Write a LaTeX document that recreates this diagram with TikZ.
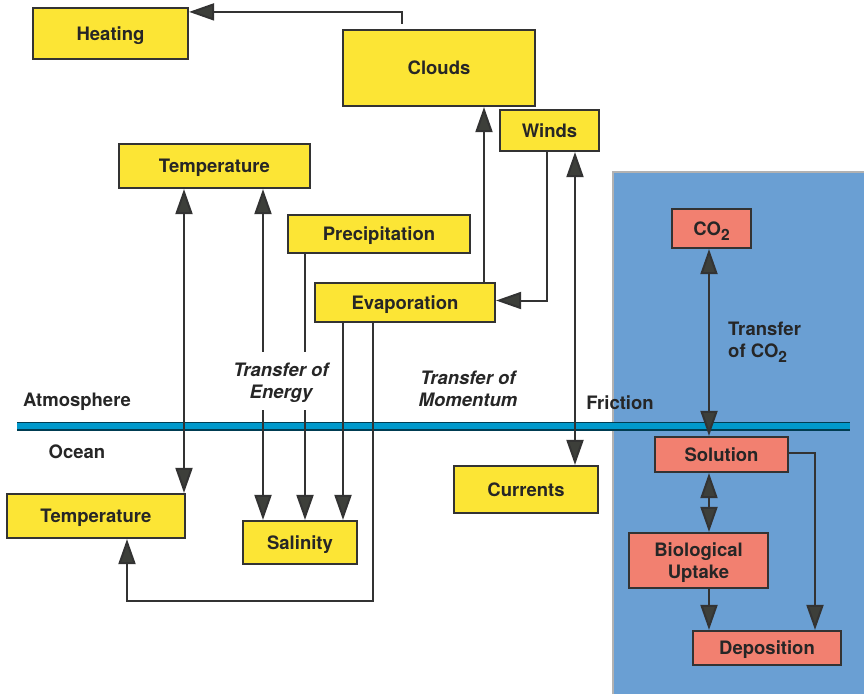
\documentclass[tikz,border=0pt]{standalone}
\usepackage{fontspec}
\setmainfont{TeX Gyre Heros}
\usetikzlibrary{arrows.meta}

\definecolor{boxyellow}{HTML}{FCE535}
\definecolor{boxsalmon}{HTML}{F28070}
\definecolor{seablue}{HTML}{6A9FD3}
\definecolor{linecol}{HTML}{333333}
\definecolor{tipcol}{HTML}{3D3F3A}
\definecolor{surface}{HTML}{0099CC}

\newcommand{\boxfont}{\fontsize{18.5}{22}\selectfont\bfseries}
\newcommand{\cotwo}{CO\raisebox{-0.5ex}{\fontsize{15.5}{15}\selectfont 2}}

\tikzset{
  box/.style={draw=linecol, line width=2.2pt, fill=boxyellow, font=\boxfont,
    text=black!85, align=center, inner sep=0pt, text depth=0pt},
  cbox/.style={box, fill=boxsalmon},
  lbl/.style={font=\boxfont, text=black!85, align=center, inner sep=1pt, text depth=0pt},
  link/.style={draw=linecol, line width=2pt, ->},
  dbl/.style={link, <->}
}

\begin{document}
\begin{tikzpicture}[x=1pt, y=-1pt, >={Triangle[length=25pt, width=17pt, fill=tipcol]}]
  \useasboundingbox (0,0) rectangle (864,694);

  % ocean region and sea surface
  \fill[seablue] (613,172) rectangle (864,694);
  \draw[black!30, line width=1.5pt] (613,694) -- (613,172) -- (864,172);
  \draw[line width=9pt, draw=black!60!surface] (17,426) -- (850,426);
  \draw[line width=5.5pt, draw=surface] (17,426) -- (850,426);

  % atmosphere boxes
  \node[box, minimum width=155pt, minimum height=51pt] (heat) at (110.5,33.5) {Heating};
  \node[box, minimum width=192pt, minimum height=76pt] (clouds) at (439,68) {Clouds};
  \node[box, minimum width=99pt, minimum height=41pt] (winds) at (549.5,130.5) {Winds};
  \node[box, minimum width=191pt, minimum height=44pt] (tempA) at (214.5,166) {Temperature};
  \node[box, minimum width=182pt, minimum height=38pt] (precip) at (379,234) {Precipitation};
  \node[box, minimum width=180pt, minimum height=39pt] (evap) at (405,302.5) {Evaporation};

  % ocean boxes
  \node[box, minimum width=178pt, minimum height=44pt] (tempO) at (96,516) {Temperature};
  \node[box, minimum width=114pt, minimum height=43pt] (salin) at (300,542.5) {Salinity};
  \node[box, minimum width=144pt, minimum height=47pt] (curr) at (526,489.5) {Currents};

  % carbon boxes
  \node[cbox, minimum width=79pt, minimum height=39pt] (co2) at (711.5,228.5) {\cotwo};
  \node[cbox, minimum width=133pt, minimum height=35pt] (sol) at (721.5,454.5) {Solution};
  \node[cbox, minimum width=139pt, minimum height=55pt] (bio) at (698.5,560.5) {Biological\\Uptake};
  \node[cbox, minimum width=148pt, minimum height=34pt] (depo) at (767,648) {Deposition};

  % connectors
  \draw[link] ([xshift=-37pt, yshift=5pt]clouds.north) |- ([yshift=-5pt]heat.north east);
  \draw[dbl] ([xshift=-30.5pt]tempA.south) -- ([xshift=-30.5pt]tempA.south |- tempO.north);
  \draw[dbl] ([xshift=48.5pt]tempA.south) -- ([xshift=48.5pt]tempA.south |- salin.north);
  \draw[link] ([xshift=-74pt]precip.south) -- ([xshift=-74pt]precip.south |- salin.north);
  \draw[link] ([xshift=-62pt]evap.south) -- ([xshift=-62pt]evap.south |- salin.north);
  \draw[link] ([xshift=-32pt]evap.south) -- ++(0,278) -| ([xshift=31pt]tempO.south);
  \draw[link] ([xshift=79pt]evap.north) -- ([xshift=79pt]evap.north |- clouds.south);
  \draw[link] ([xshift=-2.5pt]winds.south) |- ([yshift=2pt]evap.east);
  \draw[dbl] ([xshift=25.5pt]winds.south) -- ([xshift=25.5pt]winds.south |- curr.north);
  \draw[dbl] ([xshift=-2.5pt]co2.south) -- ([xshift=-2.5pt]co2.south |- sol.north);
  \draw[dbl] ([xshift=-2.5pt]co2.south |- sol.south) -- ([xshift=-2.5pt]co2.south |- bio.north);
  \draw[link] ([xshift=10.5pt]bio.south) -- ([xshift=10.5pt]bio.south |- depo.north);
  \draw[link] ([yshift=1.5pt]sol.east) -| ([xshift=48pt]depo.north);

  % labels
  \node[lbl] (atmo) at (77,400) {Atmosphere};
  \node[lbl] (ocean) at (77,452) {Ocean};
  \node[lbl, font=\boxfont\itshape, fill=white, inner xsep=2pt, inner ysep=11pt] (energy) at (281,381) {Transfer of\\Energy};
  \node[lbl, font=\boxfont\itshape] (moment) at (468,389) {Transfer of\\Momentum};
  \node[lbl] (fric) at (620,403) {Friction};
  \node[lbl, align=left, anchor=west] (tco2) at (727,340) {Transfer\\of \cotwo};
\end{tikzpicture}
\end{document}
